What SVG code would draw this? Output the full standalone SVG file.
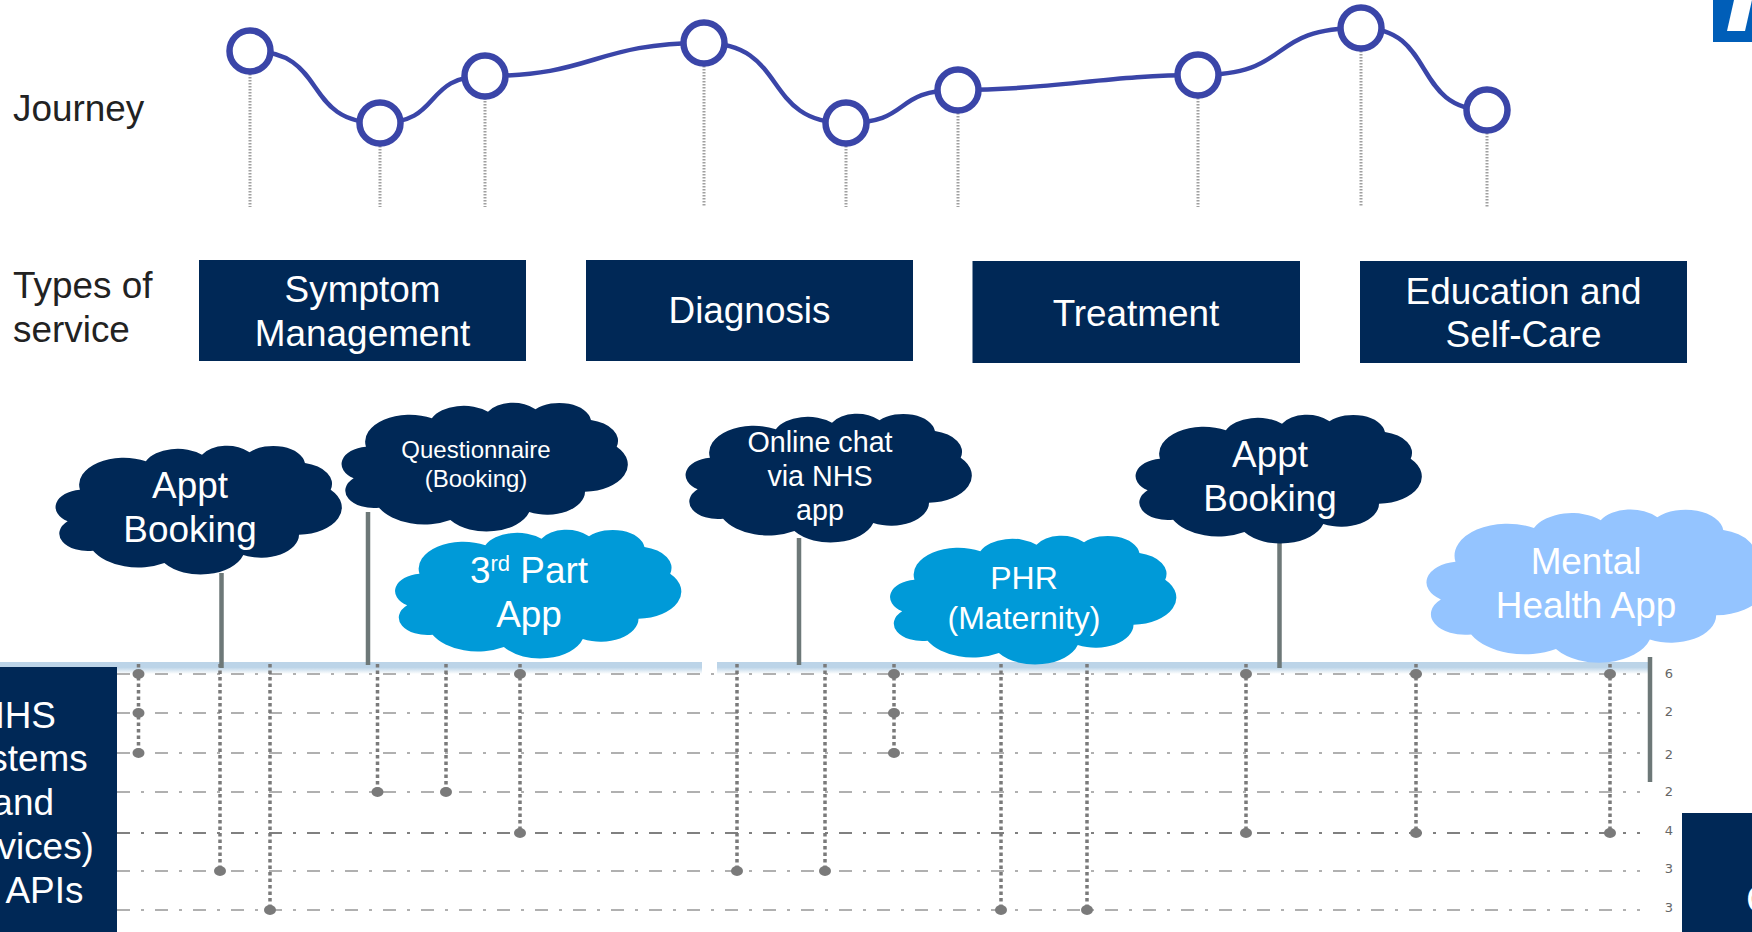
<svg xmlns="http://www.w3.org/2000/svg" width="1752" height="932" viewBox="0 0 1752 932">
<style>
text{font-family:"Liberation Sans",Arial,sans-serif}
.lab{font-size:36.900px;fill:#222}
.box{fill:#002856}
.wt{fill:#fff;text-anchor:middle}
.s36{font-size:36.900px}
.grid{stroke:#b0b0b0;stroke-width:2;stroke-dasharray:13 11 3 11;fill:none}
.vd{stroke:#7a7a7a;stroke-width:3.500;stroke-dasharray:3.500 3;fill:none}
.dot{fill:#7a7a7a}
.stem{stroke:#6d7878;stroke-width:4.500;fill:none}
.jd{stroke:#a0a0a0;stroke-width:3;stroke-dasharray:1.500 1.500;fill:none}
.jn{fill:#fff;stroke:#3a45a8;stroke-width:6.500}
.num{font-family:"DejaVu Sans",sans-serif;font-size:13px;fill:#666;text-anchor:middle}
</style>
<defs>
<path id="cloud" transform="translate(-2.500 0) scale(.99 1)" d="M26.700 42.700A44.900 27 0 0 1 93.300 14.300A35.400 21.400 0 0 1 150 7.700A29 17.500 0 0 1 198 5.300A32.300 19.400 0 0 1 254 16A35.400 21.400 0 0 1 280 42.700A45 27.100 0 0 1 248 87.700A38.400 23.100 0 0 1 191.700 108A44.900 27.200 0 0 1 112 116A51.300 31 0 0 1 40 103.700A29 17.400 0 0 1 14.300 74.300A28.900 17.500 0 0 1 26.700 42.700Z"/>
<linearGradient id="band" x1="0" y1="0" x2="0" y2="1"><stop offset="0" stop-color="#bcd4e8"/><stop offset=".45" stop-color="#bcd4e8"/><stop offset="1" stop-color="#fff"/></linearGradient>
</defs>
<rect width="1752" height="932" fill="#fff"/>
<g id="logo"><rect x="1713" y="0" width="39" height="42" fill="#005eb8"/><polygon points="1734,0 1752,0 1745,31 1727,31" fill="#fff"/></g>
<g id="connectors">
<path class="jd" d="M250 74V207M380 146V207M485 98V207M704 66V207M846 146V207M958 113V207M1198 98V207M1361 51V207M1487 133V207"/>
<path d="M250 51C330 51 300 123 380 123C443 123 422 76 485 76C595 76 594 43 704 43C789 43 761 123 846 123C913 123 891 90 958 90C1050 90 1110 75 1198 75C1296 75 1263 28 1361 28C1437 28 1411 110 1487 110" fill="none" stroke="#3a45a8" stroke-width="4.500"/>
<rect x="0" y="662" width="702" height="12" fill="url(#band)"/>
<rect x="717" y="662" width="933" height="12" fill="url(#band)"/>
<path class="grid" d="M117 674H1640M117 713H1640M117 753H1640M117 792H1640M117 871H1640M117 910H1640"/>
<path class="grid" style="stroke:#808080" d="M117 833H1640"/>
<path class="vd" d="M138.500 664V753M220 664V871M270 664V910M377.500 664V792M446 664V792M520 664V833M737 664V871M825 664V871M894 664V753M1001 664V910M1087 664V910M1246 664V833M1416 664V833M1610 664V833"/>
<g class="dot">
<ellipse cx="138.500" cy="674" rx="6" ry="5"/><ellipse cx="138.500" cy="713" rx="6" ry="5"/><ellipse cx="138.500" cy="753" rx="6" ry="5"/>
<ellipse cx="220" cy="871" rx="6" ry="5"/><ellipse cx="270" cy="910" rx="6" ry="5"/>
<ellipse cx="377.500" cy="792" rx="6" ry="5"/><ellipse cx="446" cy="792" rx="6" ry="5"/>
<ellipse cx="520" cy="674" rx="6" ry="5"/><ellipse cx="520" cy="833" rx="6" ry="5"/>
<ellipse cx="737" cy="871" rx="6" ry="5"/><ellipse cx="825" cy="871" rx="6" ry="5"/>
<ellipse cx="894" cy="674" rx="6" ry="5"/><ellipse cx="894" cy="713" rx="6" ry="5"/><ellipse cx="894" cy="753" rx="6" ry="5"/>
<ellipse cx="1001" cy="910" rx="6" ry="5"/><ellipse cx="1087" cy="910" rx="6" ry="5"/>
<ellipse cx="1246" cy="674" rx="6" ry="5"/><ellipse cx="1246" cy="833" rx="6" ry="5"/>
<ellipse cx="1416" cy="674" rx="6" ry="5"/><ellipse cx="1416" cy="833" rx="6" ry="5"/>
<ellipse cx="1610" cy="674" rx="6" ry="5"/><ellipse cx="1610" cy="833" rx="6" ry="5"/>
</g>
<path class="stem" d="M221.500 573V668M368 512V665M799 538V665M1279.500 542V668M1650 657V782"/>
</g>
<g id="journey">
<circle class="jn" cx="250" cy="51" r="20.500"/><circle class="jn" cx="380" cy="123" r="20.500"/><circle class="jn" cx="485" cy="76" r="20.500"/><circle class="jn" cx="704" cy="43" r="20.500"/><circle class="jn" cx="846" cy="123" r="20.500"/><circle class="jn" cx="958" cy="90" r="20.500"/><circle class="jn" cx="1198" cy="75" r="20.500"/><circle class="jn" cx="1361" cy="28" r="20.500"/><circle class="jn" cx="1487" cy="110" r="20.500"/>
</g>
<text class="lab" x="13" y="121">Journey</text>
<text class="lab" x="13" y="298">Types of</text><text class="lab" x="13" y="342">service</text>
<g id="s1"><rect class="box" x="199" y="260" width="327" height="101"/><text class="wt s36" x="362.500" y="302">Symptom</text><text class="wt s36" x="362.500" y="346">Management</text></g>
<g id="s2"><rect class="box" x="586" y="260" width="327" height="101"/><text class="wt s36" x="749.500" y="323">Diagnosis</text></g>
<g id="s3"><rect class="box" x="972.500" y="261" width="327.500" height="102"/><text class="wt s36" x="1136" y="326">Treatment</text></g>
<g id="s4"><rect class="box" x="1360" y="261" width="327" height="102"/><text class="wt s36" x="1523.500" y="304">Education and</text><text class="wt s36" x="1523.500" y="347">Self-Care</text></g>
<g id="c1"><use href="#cloud" x="56" y="447" fill="#002856"/><text class="wt s36" x="190" y="498">Appt</text><text class="wt s36" x="190" y="542">Booking</text></g>
<g id="c2"><use href="#cloud" x="342" y="404" fill="#002856"/><text class="wt" font-size="24" x="476" y="458">Questionnaire</text><text class="wt" font-size="24" x="476" y="487">(Booking)</text></g>
<g id="c3"><use href="#cloud" x="395.500" y="531" fill="#009ad8"/><text class="wt s36" x="529" y="583">3<tspan font-size="22" dy="-12">rd</tspan><tspan dy="12"> Part</tspan></text><text class="wt s36" x="529" y="627">App</text></g>
<g id="c4"><use href="#cloud" x="686" y="415" fill="#002856"/><text class="wt" font-size="28.700" x="820" y="452">Online chat</text><text class="wt" font-size="28.700" x="820" y="486">via NHS</text><text class="wt" font-size="28.700" x="820" y="520">app</text></g>
<g id="c5"><use href="#cloud" x="890.500" y="537" fill="#009ad8"/><text class="wt" font-size="32" x="1024" y="589">PHR</text><text class="wt" font-size="32" x="1024" y="629">(Maternity)</text></g>
<g id="c6"><use href="#cloud" x="1136" y="416" fill="#002856"/><text class="wt s36" x="1270" y="467">Appt</text><text class="wt s36" x="1270" y="511">Booking</text></g>
<g id="c7"><use href="#cloud" transform="translate(1427 511) scale(1.19 1.19)" fill="#94c4ff"/><text class="wt s36" x="1586" y="574">Mental</text><text class="wt s36" x="1586" y="618">Health App</text></g>
<g id="nhs"><rect class="box" x="0" y="667" width="117" height="265"/><text class="wt s36" x="17" y="728">NHS</text><text class="wt s36" x="17" y="771">Systems</text><text class="wt s36" x="17" y="815">(and</text><text class="wt s36" x="17" y="859">Services)</text><text class="s36" fill="#fff" x="5.500" y="903">APIs</text></g>
<g id="nums"><text class="num" x="1669" y="678">6</text><text class="num" x="1669" y="716">2</text><text class="num" x="1669" y="759">2</text><text class="num" x="1669" y="796">2</text><text class="num" x="1669" y="835">4</text><text class="num" x="1669" y="873">3</text><text class="num" x="1669" y="912">3</text></g>
<g id="corner"><rect class="box" x="1682" y="813" width="70" height="119"/><text fill="#fff" font-size="40" x="1746" y="913">C</text></g>
</svg>
